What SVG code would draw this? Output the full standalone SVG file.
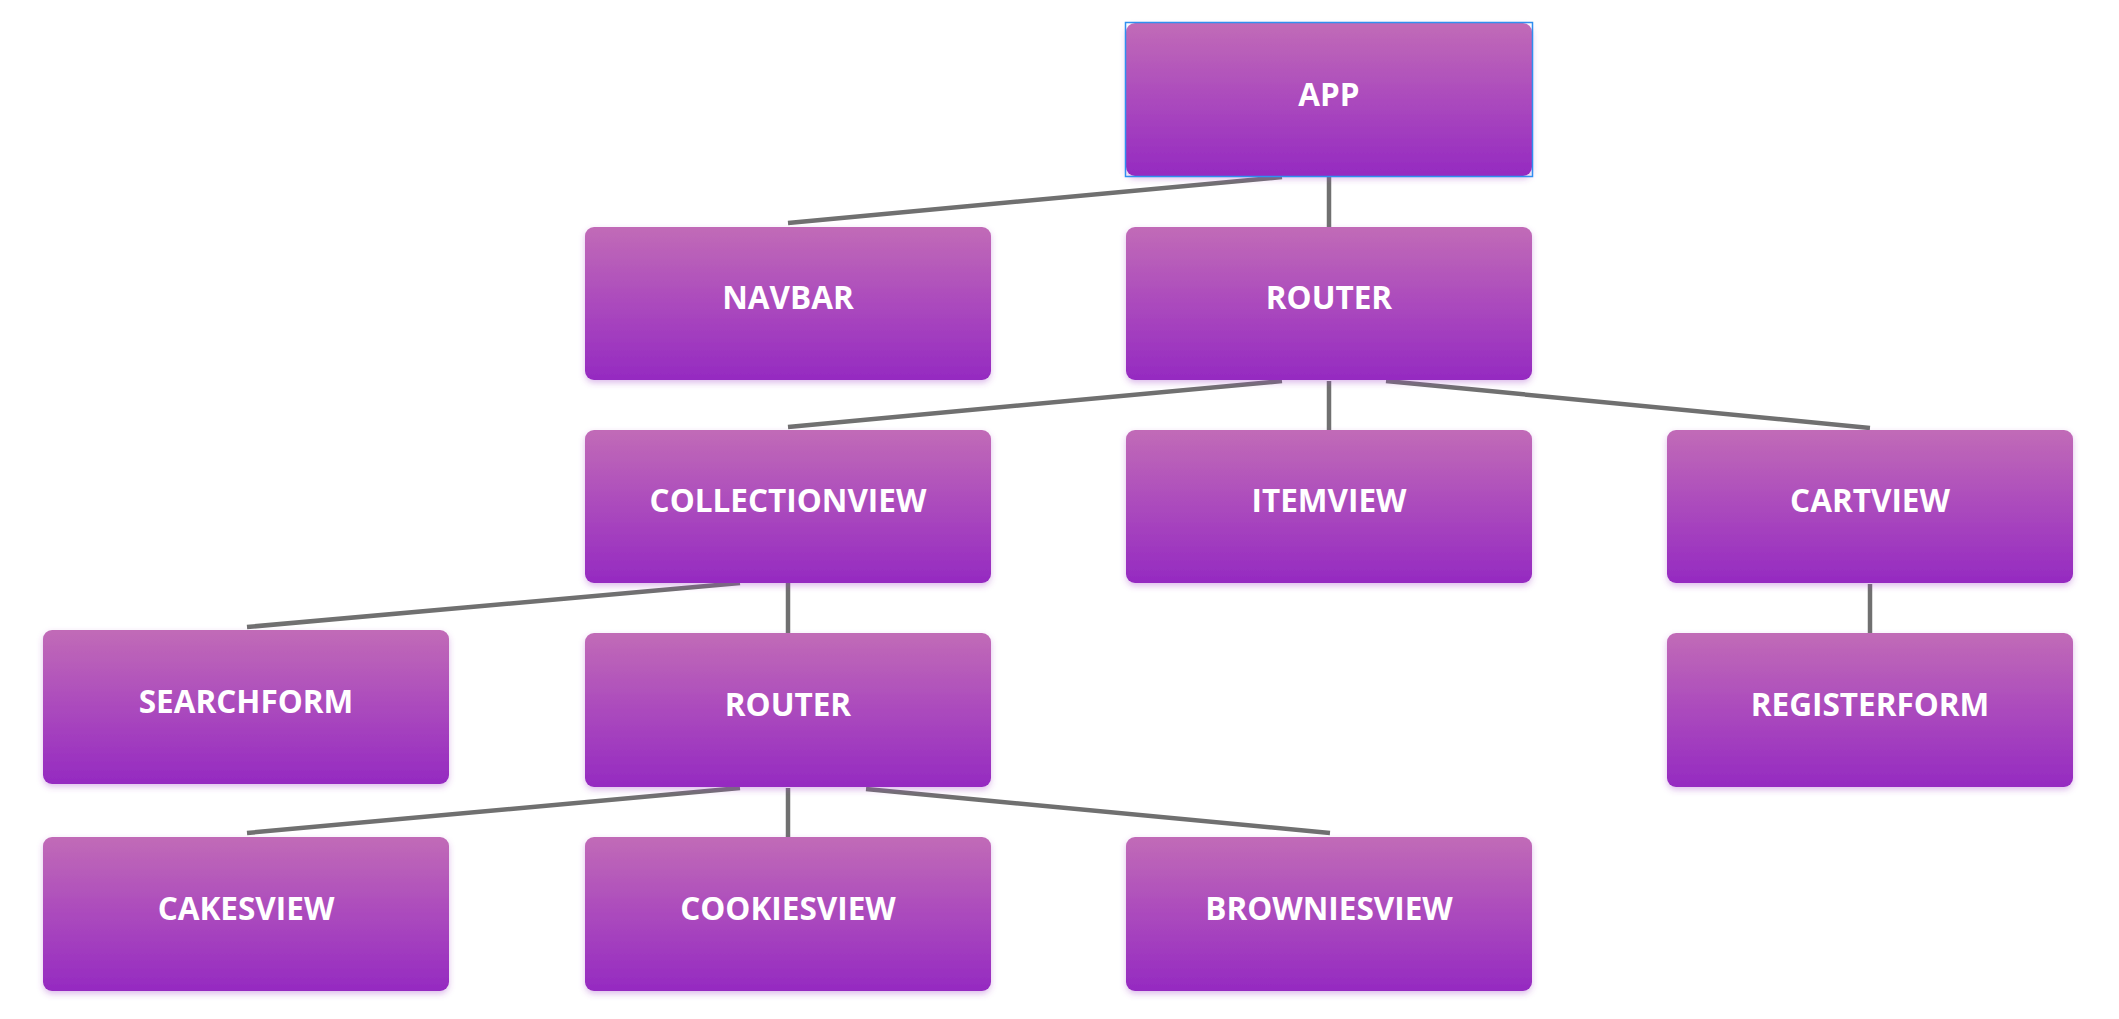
<svg xmlns="http://www.w3.org/2000/svg" width="2119" height="1019" viewBox="0 0 2119 1019">
  <defs>
    <linearGradient id="boxGrad" x1="0" y1="0" x2="0" y2="1">
      <stop offset="0" stop-color="#C16BB7"/>
      <stop offset="0.5" stop-color="#AB4ABD"/>
      <stop offset="1" stop-color="#952AC1"/>
    </linearGradient>
    <filter id="shadow" x="-5%" y="-5%" width="110%" height="120%">
      <feDropShadow dx="0" dy="3" stdDeviation="3" flood-color="#A040C8" flood-opacity="0.35"/>
    </filter>
  </defs>
  <style>
    .box { fill: url(#boxGrad); filter: url(#shadow); }
    .label { fill: #FFFFFF; font-family: "Open Sans", "Noto Sans", "Liberation Sans", sans-serif; font-weight: 700; font-size: 31.5px; text-anchor: middle; }
    .conn { stroke: #707070; stroke-width: 4.5; fill: none; }
    .sel { fill: none; stroke: #2F8FF0; stroke-width: 1.5; }
  </style>
  <rect width="2119" height="1019" fill="#FFFFFF"/>

  <g id="connectors">
    <line class="conn" x1="1282" y1="177" x2="788" y2="223"/>
    <line class="conn" x1="1329" y1="177" x2="1329" y2="227"/>
    <line class="conn" x1="1282" y1="381" x2="788" y2="427"/>
    <line class="conn" x1="1329" y1="381" x2="1329" y2="430"/>
    <line class="conn" x1="1386" y1="381" x2="1870" y2="428"/>
    <line class="conn" x1="740" y1="583" x2="247" y2="627"/>
    <line class="conn" x1="788" y1="583" x2="788" y2="633"/>
    <line class="conn" x1="740" y1="788" x2="247" y2="833"/>
    <line class="conn" x1="788" y1="788" x2="788" y2="837"/>
    <line class="conn" x1="866" y1="789" x2="1330" y2="833"/>
    <line class="conn" x1="1870" y1="584" x2="1870" y2="633"/>
  </g>

  <g id="app">
    <rect class="box" x="1126" y="23" width="406" height="153" rx="9"/>
    <rect class="sel" x="1125.5" y="22.5" width="407" height="154"/>
    <text class="label" x="1329" y="106">APP</text>
  </g>
  <g id="navbar">
    <rect class="box" x="585" y="227" width="406" height="153" rx="9"/>
    <text class="label" x="788" y="309">NAVBAR</text>
  </g>
  <g id="router">
    <rect class="box" x="1126" y="227" width="406" height="153" rx="9"/>
    <text class="label" x="1329" y="309">ROUTER</text>
  </g>
  <g id="collectionview">
    <rect class="box" x="585" y="430" width="406" height="153" rx="9"/>
    <text class="label" x="788" y="512">COLLECTIONVIEW</text>
  </g>
  <g id="itemview">
    <rect class="box" x="1126" y="430" width="406" height="153" rx="9"/>
    <text class="label" x="1329" y="512">ITEMVIEW</text>
  </g>
  <g id="cartview">
    <rect class="box" x="1667" y="430" width="406" height="153" rx="9"/>
    <text class="label" x="1870" y="512">CARTVIEW</text>
  </g>
  <g id="searchform">
    <rect class="box" x="43" y="630" width="406" height="154" rx="9"/>
    <text class="label" x="246" y="713">SEARCHFORM</text>
  </g>
  <g id="router2">
    <rect class="box" x="585" y="633" width="406" height="154" rx="9"/>
    <text class="label" x="788" y="716">ROUTER</text>
  </g>
  <g id="registerform">
    <rect class="box" x="1667" y="633" width="406" height="154" rx="9"/>
    <text class="label" x="1870" y="716">REGISTERFORM</text>
  </g>
  <g id="cakesview">
    <rect class="box" x="43" y="837" width="406" height="154" rx="9"/>
    <text class="label" x="246" y="920">CAKESVIEW</text>
  </g>
  <g id="cookiesview">
    <rect class="box" x="585" y="837" width="406" height="154" rx="9"/>
    <text class="label" x="788" y="920">COOKIESVIEW</text>
  </g>
  <g id="browniesview">
    <rect class="box" x="1126" y="837" width="406" height="154" rx="9"/>
    <text class="label" x="1329" y="920">BROWNIESVIEW</text>
  </g>
</svg>
